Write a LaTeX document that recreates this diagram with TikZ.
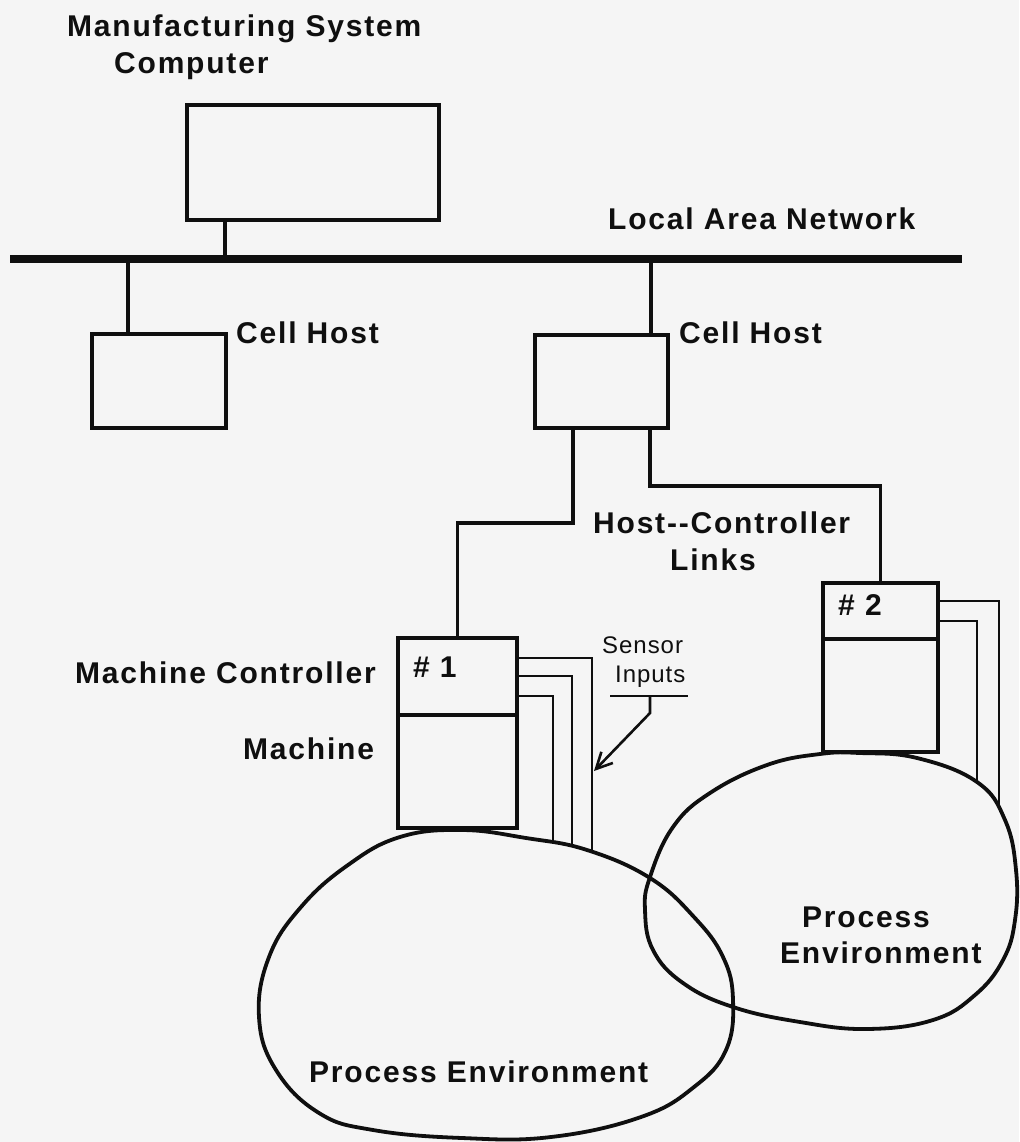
\documentclass[tikz,border=0pt]{standalone}
\usepackage{fontspec}
\setmainfont{Liberation Sans}
\newfontfamily\labfam{Liberation Sans}[LetterSpace=6]
\newfontfamily\smallfam{Liberation Sans}[LetterSpace=4]
\usetikzlibrary{arrows.meta,intersections}
\definecolor{ink}{RGB}{15,15,15}
\definecolor{paper}{RGB}{245,245,245}
\begin{document}
\begin{tikzpicture}[x=1pt,y=-1pt,
  box/.style={draw=ink, line width=4pt, inner sep=0pt, outer sep=0pt},
  wire/.style={draw=ink, line width=3.5pt},
  sensor/.style={draw=ink, line width=2.6pt},
  blob/.style={draw=ink, line width=3.8pt},
  lab/.style={font=\labfam\bfseries\fontsize{30}{34}\selectfont, inner sep=0pt, anchor=base west, text=ink},
  small/.style={font=\smallfam\fontsize{24}{28}\selectfont, inner sep=0pt, anchor=base west, text=ink}]
\fill[paper] (0,0) rectangle (1019,1142);
\useasboundingbox (0,0) rectangle (1019,1142);

% boxes
\node[box, minimum width=252pt, minimum height=115pt] (comp) at (313,162.5) {};
\node[box, minimum width=134pt, minimum height=94pt] (cellL) at (159,381) {};
\node[box, minimum width=133pt, minimum height=93pt] (cellR) at (601.5,381.5) {};
\node[box, minimum width=119pt, minimum height=77pt] (ctrl1) at (457.5,676.5) {};
\node[box, minimum width=119pt, minimum height=113pt] (mach1) at (457.5,771.5) {};
\node[box, minimum width=115pt, minimum height=56pt] (ctrl2) at (880.5,611) {};
\node[box, minimum width=115pt, minimum height=113pt] (mach2) at (880.5,695.5) {};

% LAN
\coordinate (lanL) at (10,259);
\coordinate (lanR) at (962,259);
\draw[draw=ink, line width=8pt] (lanL) -- (lanR);
\draw[wire] ([xshift=-88pt]comp.south) -- ([xshift=-88pt]comp.south |- lanL);
\draw[wire] ([xshift=-31pt]cellL.north) -- ([xshift=-31pt]cellL.north |- lanL);
\draw[wire] ([xshift=49.5pt]cellR.north) -- ([xshift=49.5pt]cellR.north |- lanL);

% host-controller links
\draw[wire] ([xshift=-28.5pt]cellR.south) -- ++(0,95) -| (ctrl1.north);
\draw[wire] ([xshift=48.5pt]cellR.south) -- ++(0,58) -| (ctrl2.north);

% process environments
\draw[blob, name path=blobL] plot[smooth cycle, tension=0.7] coordinates {
 (462,830) (526,838) (587,850) (650,878) (694,917) (723,957) (733,1000) (726,1050)
 (694,1087) (641,1117) (551,1137) (462,1138) (373,1130) (319,1113) (276,1070)
 (259,1017) (269,957) (301,907) (348,865) (400,837)};
\draw[blob, name path=blobR] plot[smooth cycle, tension=0.7] coordinates {
 (860,753) (917,758) (977,782) (1005,820) (1016,870) (1015,920) (1003,960)
 (975,995) (933,1020) (867,1029) (800,1022) (733,1007) (683,983) (653,950)
 (645,910) (650,877) (673,827) (710,793) (767,765) (820,754)};

% sensor lines
\path[name path=va] (592,600) -- (592,950);
\path[name path=vb] (572,600) -- (572,950);
\path[name path=vc] (553,600) -- (553,950);
\path[name path=vd] (999,560) -- (999,900);
\path[name path=ve] (977,560) -- (977,900);
\path[name intersections={of=blobL and va, sort by=va, by={ea}}];
\path[name intersections={of=blobL and vb, sort by=vb, by={eb}}];
\path[name intersections={of=blobL and vc, sort by=vc, by={ec}}];
\path[name intersections={of=blobR and vd, sort by=vd, by={ed}}];
\path[name intersections={of=blobR and ve, sort by=ve, by={ee}}];
\draw[sensor] ([yshift=-20pt]ctrl1.north east) -| (ea);
\draw[sensor] ([yshift=-38pt]ctrl1.north east) -| (eb);
\draw[sensor] ([yshift=-58pt]ctrl1.north east) -| (ec);
\draw[sensor] ([yshift=-18pt]ctrl2.north east) -| (ed);
\draw[sensor] ([yshift=-38pt]ctrl2.north east) -| (ee);

% sensor inputs pointer
\coordinate (ulL) at (610,696);
\coordinate (ulR) at (688,696);
\coordinate (ulM) at (650,696);
\coordinate (tip) at (594,771);
\draw[sensor] (ulL) -- (ulR);
\draw[sensor, -{Straight Barb[length=16pt,width=16pt,line width=2.6pt]}] (ulM) -- ++(0,17) -- (tip);

% labels
\node[lab] (tMS) at (67,37) {Manufacturing System};
\node[lab] (tComp) at (114,74) {Computer};
\node[lab] (tLAN) at (608,229) {Local Area Network};
\node[lab] (tCH1) at (236,343) {Cell Host};
\node[lab] (tCH2) at (679,343) {Cell Host};
\node[lab] (tHC) at (593,533) {Host-{}-Controller};
\node[lab] (tLinks) at (670,570) {Links};
\node[lab] (tN2) at (838,615) {\# 2};
\node[lab] (tN1) at (413,677) {\# 1};
\node[lab] (tMC) at (75,683) {Machine Controller};
\node[lab] (tMach) at (243,759) {Machine};
\node[small] (tSen) at (602,653) {Sensor};
\node[small] (tInp) at (615,682) {Inputs};
\node[lab] (tPE1) at (309,1082) {Process Environment};
\node[lab] (tPE2a) at (802,927) {Process};
\node[lab] (tPE2b) at (780,963) {Environment};
\end{tikzpicture}
\end{document}
